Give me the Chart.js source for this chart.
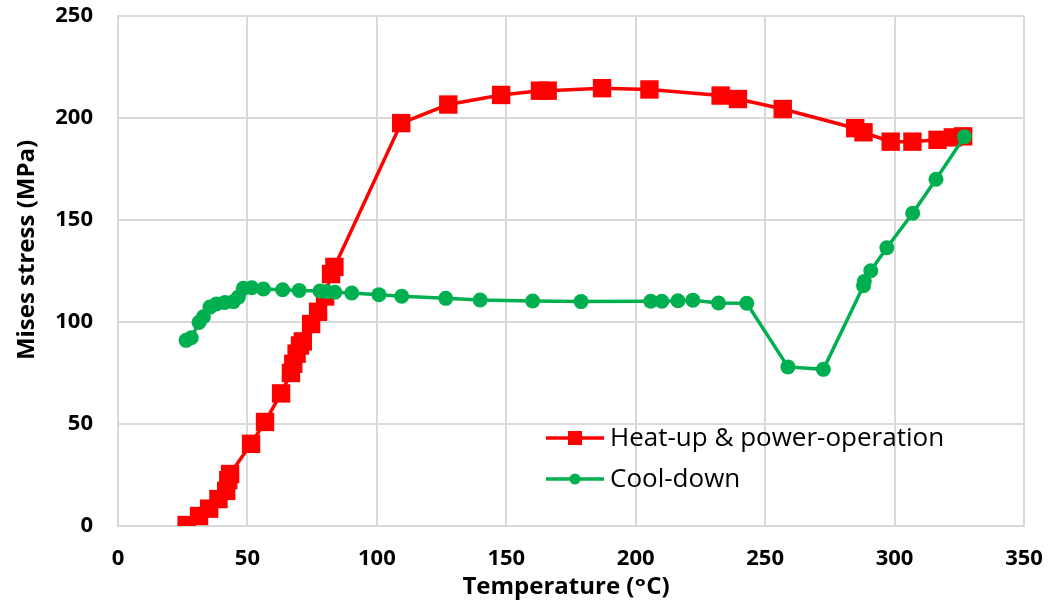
<!DOCTYPE html>
<html>
<head>
<meta charset="utf-8">
<script src="https://cdn.jsdelivr.net/npm/chart.js@4/dist/chart.umd.min.js"></script>
<style>
  html, body { margin: 0; padding: 0; background: #ffffff; }
  #wrap { width: 1052px; height: 607px; }
</style>
</head>
<body>
<div id="wrap"><canvas id="c" width="1052" height="607"></canvas></div>
<script>
// ---- Data ----
const heatTemp = [26.5, 31.3, 35.2, 38.8, 41.8, 42.6, 43.3, 51.4, 56.8, 63.0, 66.8, 67.7, 69.0, 70.3, 71.4, 74.6, 77.3, 80.0, 82.3, 83.6,
                  109.4, 127.6, 148.0, 163.0, 166.0, 187.0, 205.3, 232.8, 239.5, 256.8, 284.8, 288.0, 298.5, 306.9, 316.6, 322.5, 326.5];
const heatStress = [0.5, 4.9, 8.5, 13.2, 17.2, 22.5, 25.5, 40.3, 51.0, 65.0, 75.0, 79.5, 84.5, 88.5, 90.5, 99.0, 105.0, 112.5, 123.5, 127.0,
                    197.5, 206.6, 211.3, 213.4, 213.4, 214.6, 214.0, 211.0, 209.3, 204.4, 195.0, 193.0, 188.4, 188.4, 189.3, 190.5, 191.0];

const coolTemp = [26.3, 28.3, 31.3, 33.0, 35.5, 38.0, 41.3, 44.6, 46.5, 48.4, 51.7, 56.2, 63.6, 70.0, 78.0, 80.6, 83.8, 90.3,
                  100.8, 109.6, 126.6, 139.9, 160.2, 178.9, 205.8, 210.1, 216.3, 222.1, 232.0, 242.9, 258.8, 272.5,
                  288.0, 288.3, 290.8, 297.0, 307.0, 316.0, 327.0];
const coolStress = [91.0, 92.3, 99.8, 102.6, 107.3, 108.8, 109.6, 110.0, 112.2, 116.5, 116.8, 116.2, 115.8, 115.5, 115.2, 114.9, 114.6, 114.2,
                    113.4, 112.6, 111.6, 110.8, 110.3, 110.0, 110.2, 110.2, 110.4, 110.7, 109.3, 109.2, 78.0, 76.8,
                    117.8, 119.8, 125.1, 136.4, 153.3, 170.0, 190.8];

const seriesNames = ["Heat-up & power-operation", "Cool-down"];
const xTitle = "Temperature (\u1D52C)";
const yTitle = "Mises stress (MPa)";
const xMin = 0, xMax = 350, xStep = 50;
const yMin = 0, yMax = 250, yStep = 50;

const RED = "#ff0000";
const GREEN = "#00b050";
const FONT = "'Open Sans', 'DejaVu Sans', sans-serif";

const toPts = (xs, ys) => xs.map((x, i) => ({ x: x, y: ys[i] }));

// ---- Custom legend (line + marker, inside plot) and axis titles ----
const decorations = {
  id: "decorations",
  afterDraw(chart) {
    const ctx = chart.ctx;
    ctx.save();
    // legend
    const rows = [
      { name: seriesNames[0], color: RED, style: "rect", y: 438 },
      { name: seriesNames[1], color: GREEN, style: "circle", y: 479 }
    ];
    ctx.font = "26px " + FONT;
    ctx.textBaseline = "middle";
    ctx.textAlign = "left";
    rows.forEach(r => {
      ctx.strokeStyle = r.color;
      ctx.lineWidth = 3.5;
      ctx.beginPath();
      ctx.moveTo(546, r.y);
      ctx.lineTo(604, r.y);
      ctx.stroke();
      ctx.fillStyle = r.color;
      if (r.style === "rect") {
        ctx.fillRect(575 - 7, r.y - 7, 14, 14);
      } else {
        ctx.beginPath();
        ctx.arc(575, r.y, 5.5, 0, Math.PI * 2);
        ctx.fill();
      }
      ctx.fillStyle = "#000000";
      ctx.fillText(r.name, 610, r.y + 1);
    });
    // axis titles
    ctx.fillStyle = "#000000";
    ctx.font = "bold 24px " + FONT;
    ctx.textAlign = "center";
    ctx.textBaseline = "middle";
    ctx.fillText(xTitle, 566, 587);
    ctx.translate(27, 250);
    ctx.rotate(-Math.PI / 2);
    ctx.fillText(yTitle, 0, 0);
    ctx.restore();
  }
};

new Chart(document.getElementById("c"), {
  type: "scatter",
  data: {
    datasets: [
      {
        label: seriesNames[0],
        data: toPts(heatTemp, heatStress),
        showLine: true,
        borderColor: RED,
        backgroundColor: RED,
        borderWidth: 3.5,
        pointStyle: "rect",
        pointRadius: 13,
        pointBorderWidth: 0,
        pointBackgroundColor: RED,
        order: 1
      },
      {
        label: seriesNames[1],
        data: toPts(coolTemp, coolStress),
        showLine: true,
        borderColor: GREEN,
        backgroundColor: GREEN,
        borderWidth: 3.5,
        pointStyle: "circle",
        pointRadius: 7.5,
        pointBorderWidth: 0,
        pointBackgroundColor: GREEN,
        order: 0
      }
    ]
  },
  options: {
    responsive: false,
    devicePixelRatio: 1,
    animation: false,
    layout: { padding: { left: 0, top: 16, right: 28, bottom: 0 } },
    plugins: {
      legend: { display: false },
      tooltip: { enabled: false }
    },
    scales: {
      x: {
        type: "linear",
        min: xMin, max: xMax,
        afterFit: s => { s.height = 81; s.paddingLeft = 0; s.paddingRight = 0; },
        ticks: {
          stepSize: xStep,
          color: "#000000",
          padding: 20,
          maxRotation: 0,
          font: { family: FONT, size: 22, weight: "bold" }
        },
        grid: { color: "#d9d9d9", lineWidth: 2, drawTicks: false },
        border: { color: "#d9d9d9", width: 2 },
        title: { display: false }
      },
      y: {
        type: "linear",
        min: yMin, max: yMax,
        afterFit: s => { s.width = 118; s.paddingTop = 0; s.paddingBottom = 0; },
        ticks: {
          stepSize: yStep,
          color: "#000000",
          padding: 25,
          font: { family: FONT, size: 22, weight: "bold" }
        },
        grid: { color: "#d9d9d9", lineWidth: 2, drawTicks: false },
        border: { color: "#d9d9d9", width: 2 },
        title: { display: false }
      }
    }
  },
  plugins: [decorations]
});
</script>
</body>
</html>
